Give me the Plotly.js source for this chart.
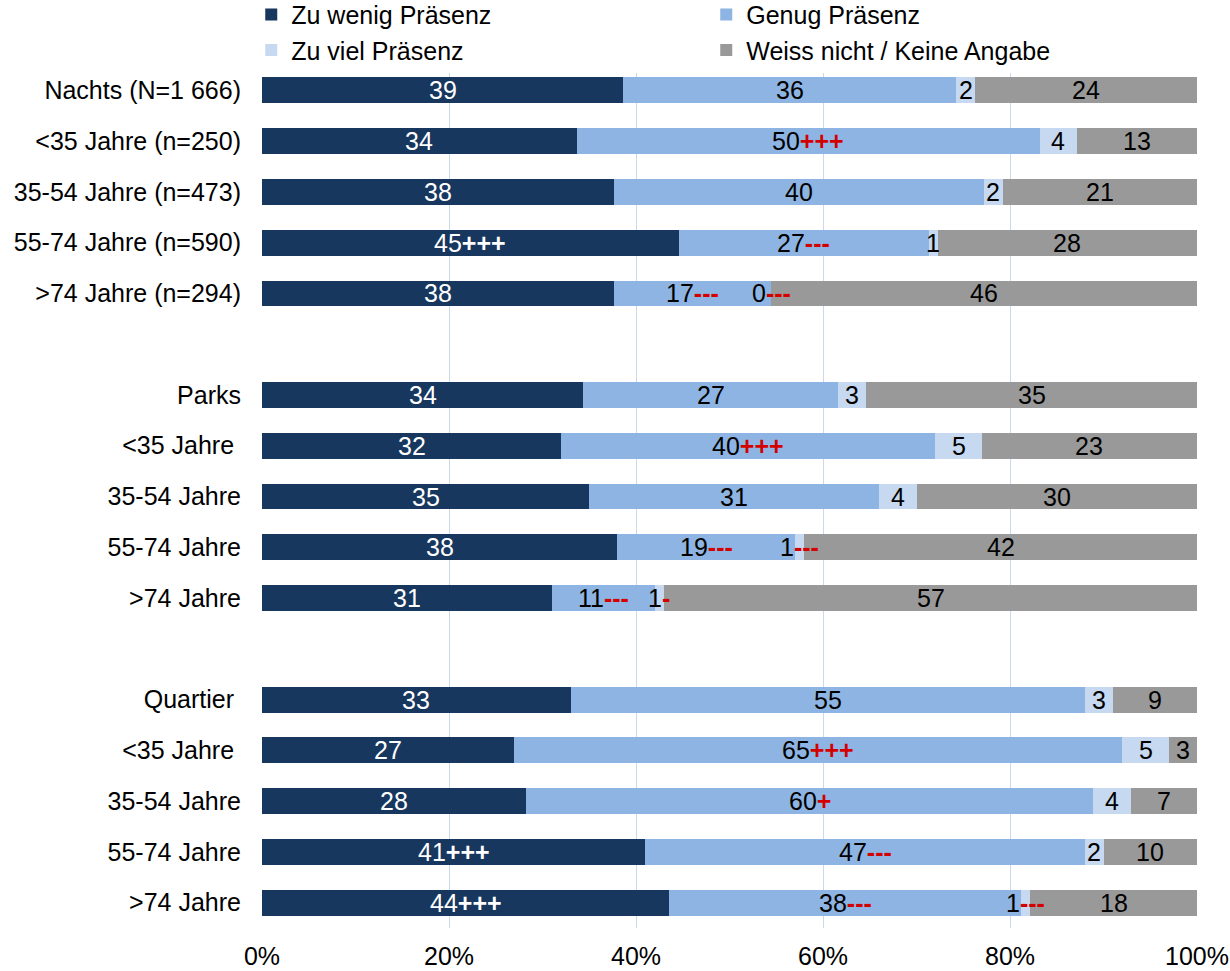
<!DOCTYPE html>
<html>
<head>
<meta charset="utf-8">
<script src="https://cdn.plot.ly/plotly-3.0.1.min.js"></script>
<style>html,body{margin:0;padding:0;background:#fff;}#chart{width:1230px;height:971px;}</style>
</head>
<body>
<div id="chart"></div>
<script>
const categories = ['Nachts (N=1 666)', '<35 Jahre (n=250)', '35-54 Jahre (n=473)', '55-74 Jahre (n=590)', '>74 Jahre (n=294)', '',
  'Parks', '<35 Jahre\u00a0', '35-54 Jahre', '55-74 Jahre', '>74 Jahre', '',
  'Quartier\u00a0', '<35 Jahre\u00a0', '35-54 Jahre', '55-74 Jahre', '>74 Jahre'];
const seriesNames = ['Zu wenig Präsenz', 'Genug Präsenz', 'Zu viel Präsenz', 'Weiss nicht / Keine Angabe'];
const zuWenig    = [39, 34, 38, 45, 38, null, 34, 32, 35, 38, 31, null, 33, 27, 28, 41, 44];
const genug      = [36, 50, 40, 27, 17, null, 27, 40, 31, 19, 11, null, 55, 65, 60, 47, 38];
const zuViel     = [2, 4, 2, 1, 0, null, 3, 5, 4, 1, 1, null, 3, 5, 4, 2, 1];
const weissNicht = [24, 13, 21, 28, 46, null, 35, 23, 30, 42, 57, null, 9, 3, 7, 10, 18];
const sigWenig = ['', '', '', '+++', '', null, '', '', '', '', '', null, '', '', '', '+++', '+++'];
const sigGenug = ['', '+++', '', '---', '---', null, '', '+++', '', '---', '---', null, '', '+++', '+', '---', '---'];
const sigViel  = ['', '', '', '', '---', null, '', '', '', '---', '-', null, '', '', '', '', '---'];
const sigWeiss = ['', '', '', '', '', null, '', '', '', '', '', null, '', '', '', '', ''];
const xTicks = [0, 20, 40, 60, 80, 100];

const colors = ['#17375e', '#8db4e2', '#c6d9f1', '#999999'];
const labelColors = ['#ffffff', '#000000', '#000000', '#000000'];
const sigColors = ['#ffffff', '#d40000', '#d40000', '#d40000'];
const allSeries = [zuWenig, genug, zuViel, weissNicht];
const allSig = [sigWenig, sigGenug, sigViel, sigWeiss];
const FONT = 'Liberation Sans, Arial, sans-serif';
const FS = 25;

const yIdx = categories.map((c, i) => i);

const traces = allSeries.map((vals, s) => ({
  type: 'bar', orientation: 'h', name: seriesNames[s],
  x: vals, y: yIdx,
  marker: {color: colors[s], line: {width: 0}},
  hoverinfo: 'none'
}));

const annotations = [];
yIdx.forEach(i => {
  if (zuWenig[i] === null) return;
  const total = allSeries.reduce((a, arr) => a + arr[i], 0);
  let cum = 0;
  allSeries.forEach((arr, s) => {
    const v = arr[i];
    const center = (cum + v / 2) / total * 100;
    cum += v;
    const sig = allSig[s][i];
    let txt = String(v);
    if (sig) txt += '<span style="color:' + sigColors[s] + '"><b>' + sig + '</b></span>';
    annotations.push({
      x: center, y: i, xref: 'x', yref: 'y', text: txt, showarrow: false,
      xanchor: 'center', yanchor: 'middle',
      font: {family: FONT, size: FS, color: labelColors[s]}
    });
  });
});

const layout = {
  width: 1230, height: 971,
  margin: {l: 262, r: 33, t: 65, b: 43, autoexpand: false},
  paper_bgcolor: '#ffffff', plot_bgcolor: '#ffffff',
  barmode: 'stack', barnorm: 'percent', bargap: 0.49,
  font: {family: FONT, size: FS, color: '#000000'},
  showlegend: true,
  legend: {
    orientation: 'h', x: -0.0115, xanchor: 'left', y: 1.085, yanchor: 'top',
    entrywidth: 410, entrywidthmode: 'pixels', maxheight: 300,
    font: {family: FONT, size: FS, color: '#000000'},
    traceorder: 'normal', itemclick: false, itemdoubleclick: false
  },
  xaxis: {
    range: [0, 100], tickvals: xTicks, ticktext: xTicks.map(t => t + '%'),
    showgrid: true, gridcolor: '#c9d9e5', gridwidth: 1, zeroline: false,
    showline: false, ticks: '', ticklabelstandoff: 11,
    tickfont: {family: FONT, size: FS, color: '#000000'}, fixedrange: true
  },
  yaxis: {
    range: [categories.length - 0.5, -0.5],
    tickvals: yIdx, ticktext: categories,
    showgrid: false, zeroline: false, showline: false, ticks: '',
    ticklabelstandoff: 20,
    tickfont: {family: FONT, size: FS, color: '#000000'}, fixedrange: true
  },
  annotations: annotations
};

Plotly.newPlot('chart', traces, layout, {displayModeBar: false, staticPlot: true});
</script>
</body>
</html>
